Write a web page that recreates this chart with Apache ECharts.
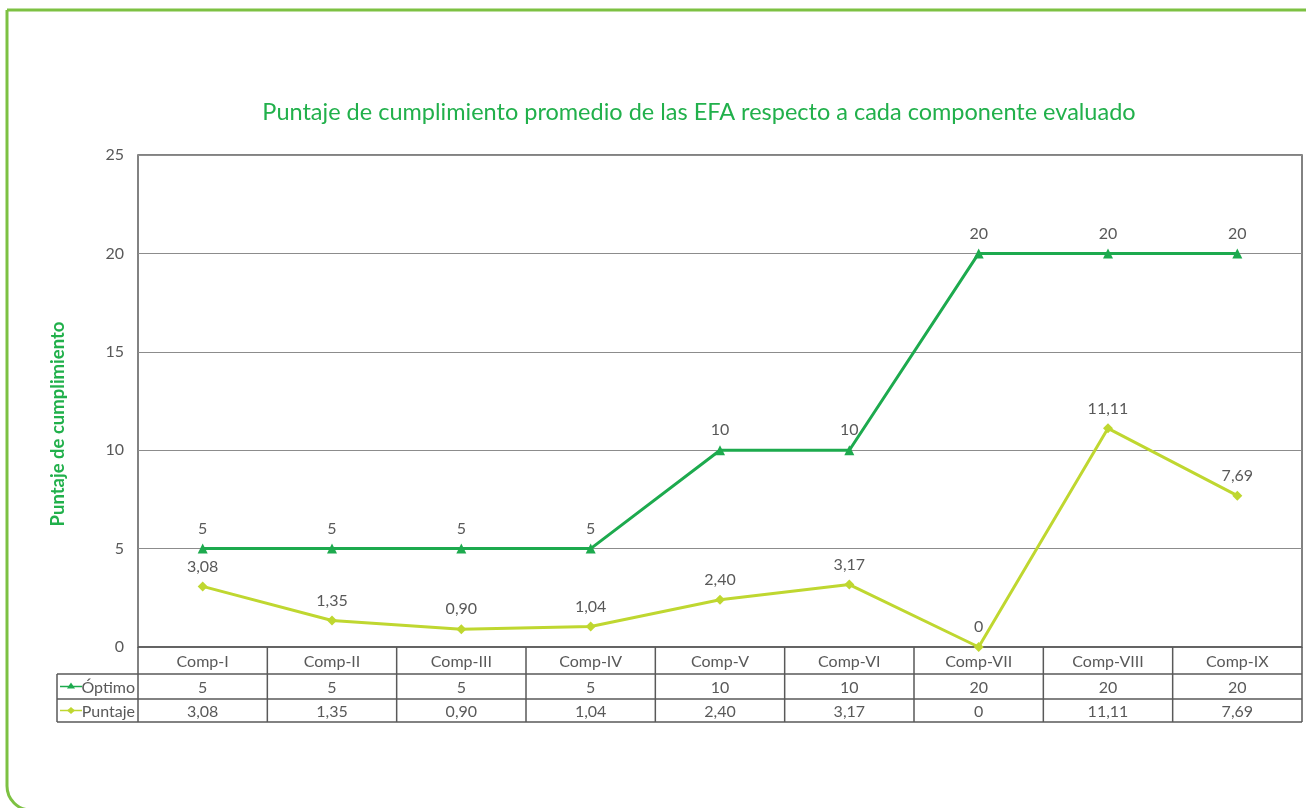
<!DOCTYPE html>
<html><head><meta charset="utf-8">
<script src="https://cdn.jsdelivr.net/npm/echarts@6/dist/echarts.min.js"></script>
<style>html,body{margin:0;padding:0;background:#fff}#c{width:1306px;height:808px}</style>
</head><body><div id="c"></div>
<script>
const categories = ['Comp-I','Comp-II','Comp-III','Comp-IV','Comp-V','Comp-VI','Comp-VII','Comp-VIII','Comp-IX'];
const optimo = [5,5,5,5,10,10,20,20,20];
const puntaje = [3.08,1.35,0.90,1.04,2.40,3.17,0,11.11,7.69];
const seriesNames = ['Óptimo','Puntaje'];
const titleText = 'Puntaje de cumplimiento promedio de las EFA respecto a cada componente evaluado';
const yAxisName = 'Puntaje de cumplimiento';

const FONT = 'Lato';
const FS = 16;
const GRAY = '#595959';
const C_OPT = '#1DAA4E';
const C_PUN = '#BFD730';
const fmt = v => Number.isInteger(v) ? String(v) : v.toFixed(2).replace('.', ',');

const chart = echarts.init(document.getElementById('c'), null, {renderer:'canvas'});
const option = {
  animation: false,
  backgroundColor: '#fff',
  textStyle: {fontFamily: FONT},
  title: {text: titleText, left: 694, top: 95, textAlign: 'center',
    textStyle: {color: '#21B04B', fontSize: 23.5, fontWeight: 'normal', fontFamily: FONT}},
  grid: {left: 138, right: 4, top: 155, bottom: 161, show: true, borderColor: GRAY, borderWidth: 1.5, backgroundColor: 'transparent'},
  xAxis: {type: 'category', data: categories, boundaryGap: true,
    axisLine: {show: false}, axisTick: {show: false}, axisLabel: {show: false}},
  yAxis: {type: 'value', min: 0, max: 25, interval: 5,
    axisLine: {show: false}, axisTick: {show: false},
    axisLabel: {color: GRAY, fontSize: FS, margin: 14, fontFamily: FONT},
    splitLine: {lineStyle: {color: '#8c8c8c', width: 1}}},
  series: [
    {name: seriesNames[0], type: 'line', data: optimo, symbol: 'triangle', symbolSize: 10,
      lineStyle: {color: C_OPT, width: 3}, itemStyle: {color: C_OPT},
      label: {show: true, position: 'top', distance: 7, color: GRAY, fontSize: FS, fontFamily: FONT, formatter: p => fmt(p.value)}},
    {name: seriesNames[1], type: 'line', data: puntaje, symbol: 'diamond', symbolSize: 10,
      lineStyle: {color: C_PUN, width: 3}, itemStyle: {color: C_PUN},
      label: {show: true, position: 'top', distance: 7, color: GRAY, fontSize: FS, fontFamily: FONT, formatter: p => fmt(p.value)}}
  ]
};
chart.setOption(option);

// Build frame + data table from arrays, positioned through the grid's coordinate system
const rect = chart.getModel().getComponent('grid').coordinateSystem.getRect();
const n = categories.length;
const cw = rect.width / n;
const rowH = [27, 25, 23];
const y0 = rect.y + rect.height;
const yr1 = y0 + rowH[0];
const yr2 = yr1 + rowH[1];
const yr3 = yr2 + rowH[2];
const legendLeft = 57;
const g = [];
const line = (x1,y1,x2,y2) => g.push({type:'line', silent:true, shape:{x1,y1,x2,y2}, style:{stroke:GRAY, lineWidth:1.5}});
// frame
g.push({type:'rect', silent:true, shape:{x:7, y:10, width:1340, height:800, r:[0,0,0,24]}, style:{fill:'none', stroke:'#7DC142', lineWidth:3}});
// y axis name
g.push({type:'text', silent:true, x:58, y:424, rotation:Math.PI/2,
  style:{text:yAxisName, fill:'#21B04B', font:'bold 18.5px '+FONT, align:'center', verticalAlign:'middle'}});
// horizontal lines
line(rect.x, y0, rect.x + rect.width, y0);
line(legendLeft, yr1, rect.x + rect.width, yr1);
line(legendLeft, yr2, rect.x + rect.width, yr2);
line(legendLeft, yr3, rect.x + rect.width, yr3);
// vertical lines
for (let i = 0; i <= n; i++) line(rect.x + i*cw, y0, rect.x + i*cw, yr3);
line(legendLeft, yr1, legendLeft, yr3);
const txt = (x,y,t,align) => g.push({type:'text', silent:true, x, y, style:{text:t, fill:GRAY, font:FS+'px '+FONT, align:align||'center', verticalAlign:'middle'}});
const rows = [optimo, puntaje];
for (let i = 0; i < n; i++) {
  const cx = rect.x + (i+0.5)*cw;
  txt(cx, (y0+yr1)/2 + 1, categories[i]);
  txt(cx, (yr1+yr2)/2 + 1, fmt(rows[0][i]));
  txt(cx, (yr2+yr3)/2 + 1, fmt(rows[1][i]));
}
// legend keys
const keyColors = [C_OPT, C_PUN];
[[yr1,yr2],[yr2,yr3]].forEach(([a,b], k) => {
  const cy = (a+b)/2;
  g.push({type:'line', silent:true, shape:{x1:60, y1:cy, x2:82, y2:cy}, style:{stroke:keyColors[k], lineWidth:1.5}});
  if (k === 0) g.push({type:'polygon', silent:true, shape:{points:[[71,cy-4],[75,cy+2],[67,cy+2]]}, style:{fill:keyColors[k]}});
  else g.push({type:'polygon', silent:true, shape:{points:[[71,cy-3.5],[75,cy],[71,cy+3.5],[67,cy]]}, style:{fill:keyColors[k]}});
  txt(135, cy + 1, seriesNames[k], 'right');
});
chart.setOption({graphic: g});
</script></body></html>
